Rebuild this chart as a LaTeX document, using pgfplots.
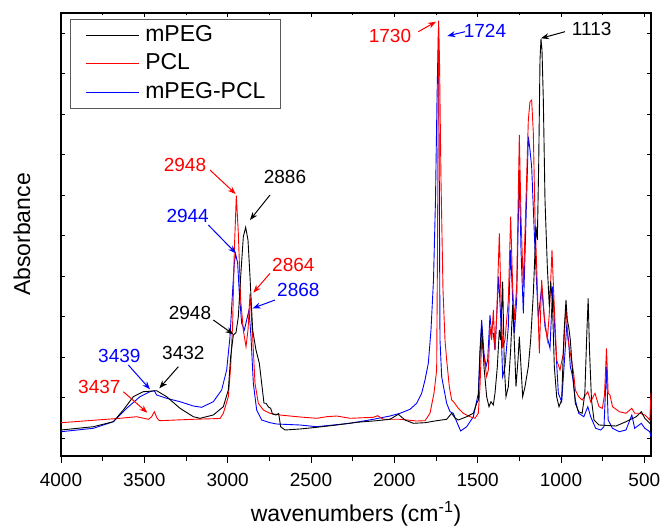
\documentclass[border=0pt]{standalone}
\usepackage{fontspec}
\setmainfont{Liberation Sans}
\usepackage{pgfplots}
\pgfplotsset{compat=1.18}
\usetikzlibrary{arrows.meta}
\definecolor{cred}{RGB}{255,0,0}
\definecolor{cblue}{RGB}{0,0,255}
\newcommand\annfont{\fontsize{19bp}{22bp}\selectfont}
\newcommand\lblfont{\fontsize{23bp}{27bp}\selectfont}
\begin{document}
\begin{tikzpicture}
\pgfplotsset{
 base/.style={
  at={(61bp,75bp)}, anchor=south west,
  width=590bp, height=443bp, scale only axis,
  xmin=460, xmax=4000, ymin=0, ymax=443,
  x dir=reverse,
  xtick={500,1000,...,4000},
  minor x tick num=1,
  /pgf/number format/1000 sep={},
  /pgf/number format/assume math mode=true,
  scaled ticks=false,
  axis line style={line width=1.2bp},
  every tick/.style={black, line width=0.9bp},
 }
}
\begin{axis}[base,
  xtick pos=right, ytick pos=both,
  tick align=inside,
  xticklabels={}, 
  ytick={17.7,58.2,98.7,139.2,179.7,220.2,260.7,301.2,341.7,382.2,422.7},
  yticklabels={},
  major tick length=4bp, minor tick length=2.5bp,
  every axis y label/.style={at={(axis description cs:-0.0661,0.5)}, rotate=90, anchor=center, font=\lblfont},
  ylabel={Absorbance},
  legend style={at={(axis description cs:0.01525,0.9865)}, anchor=north west,
    draw=black!65, line width=0.8bp, fill=white, font=\lblfont,
    inner xsep=15bp, inner ysep=5bp, row sep=6.5bp,
    nodes={inner sep=0pt, text height=17bp, text depth=5bp},
    /tikz/every odd column/.append style={column sep=6bp}},
  legend cell align=left,
  legend image code/.code={\draw[#1, line width=0.9bp] (0bp,0bp) -- (53bp,0bp);},
]
\addlegendimage{black}\addlegendentry{mPEG}
\addlegendimage{cred}\addlegendentry{PCL}
\addlegendimage{cblue}\addlegendentry{mPEG-PCL}

% mPEG-PCL (blue)
\addplot[cblue, line width=0.9bp, forget plot] coordinates {
(4000,24.3)(3806,27.7)(3686,34.3)(3606,47.7)(3526,59.3)(3466,64.3)(3440,65.3)(3426,61)
(3366,57.7)(3286,54.3)(3206,50)(3156,48.7)(3086,54.3)(3036,66)(3006,86)(2986,119.3)
(2970,166)(2960,192.7)(2952,202)(2940,192.7)(2930,162.7)(2916,132.7)(2900,126)(2886,136)
(2872,146)(2860,119.3)(2846,72.7)(2826,46)(2796,36)(2746,33.3)(2706,32)(2566,31)
(2466,29.3)(2266,32.7)(2126,36.7)(2096,37.7)(2026,40)(1966,42.7)(1906,46.7)(1866,52.7)
(1836,62.7)(1816,76)(1796,92.7)(1780,126)(1765,176)(1753,256)(1744,356)(1736,426)
(1731,306)(1726,116)(1716,79.3)(1686,52.7)(1666,44.3)(1646,42.7)(1626,34.3)(1602,25)
(1566,29.3)(1526,39.3)(1496,62.7)(1486,106)(1476,136)(1462,102.7)(1450,89.3)(1440,96)
(1426,141)(1416,122.7)(1406,122.7)(1396,106)(1386,139.3)(1374,179.3)(1362,139.3)(1350,79.3)
(1336,89.3)(1316,129.3)(1302,206)(1290,156)(1280,122.7)(1266,156)(1250,286)(1240,206)
(1226,142.7)(1210,236)(1196,319.3)(1186,306)(1176,289.3)(1156,206)(1136,137.7)(1116,169.3)
(1096,129.3)(1078,116)(1066,107.7)(1050,169.3)(1036,122.7)(1016,62.7)(996,54.3)(979,96)
(966,129.3)(955,116)(944,89.3)(930,79.3)(914,56)(894,42.7)(863,39.3)(839,49.3)
(822,39.3)(792,27.7)(762,26)(742,29.3)(727,89.3)(717,36)(691,27.7)(650,24.3)
(610,26)(575,41)(558,27.7)(518,32.7)(497,27.7)(467,24.3)(460,19.3)
};

% PCL (red)
\addplot[cred, line width=0.9bp, forget plot] coordinates {
(4000,33.3)(3646,37.7)(3546,39.3)(3476,36.7)(3457,39)(3440,44.3)(3424,38)(3410,35.3)
(3206,36.7)(3046,37.5)(3026,42.7)(2996,59.3)(2982,89.3)(2970,132.7)(2960,206)(2948,260.3)
(2936,222.7)(2922,156)(2906,126)(2890,109.3)(2878,126)(2866,162)(2850,119.3)(2836,72.7)
(2816,52.7)(2786,46)(2746,42.7)(2686,41)(2566,39)(2466,37.7)(2406,39.3)(2346,40)
(2266,37.7)(2126,38.7)(2100,40.3)(2066,36.7)(1966,36.7)(1866,35)(1816,35.3)(1786,42.7)
(1762,62.7)(1746,86)(1741,206)(1737,356)(1734,435.3)(1729,396)(1720,276)(1708,166)
(1696,116)(1686,96)(1670,69.3)(1656,56)(1642,53.7)(1616,47.7)(1586,42.7)(1546,39.3)
(1516,37.7)(1496,42.7)(1486,69.3)(1476,116)(1462,99.3)(1446,79.3)(1436,86)(1426,129.3)
(1416,116)(1406,146)(1396,106)(1386,139.3)(1370,222.7)(1360,156)(1350,109.3)(1336,116)
(1316,156)(1302,239.3)(1290,169.3)(1280,136)(1266,169.3)(1250,321)(1240,239.3)(1226,169.3)
(1210,256)(1196,336)(1186,354.3)(1176,356)(1166,322.7)(1156,239.3)(1142,169.3)(1130,102.7)
(1116,176)(1100,139.3)(1082,116)(1070,142.7)(1054,206)(1042,156)(1026,96)(1006,86)
(986,102.7)(970,149.3)(958,116)(944,102.7)(924,82.7)(914,66)(894,59.3)(873,56)
(839,64.3)(822,54.3)(796,62.7)(772,49.3)(752,47.7)(739,61)(727,107.7)(717,62.7)
(706,61)(691,49.3)(650,44.3)(610,42.7)(575,47.7)(558,42.7)(526,42.7)(496,41)
(467,36)(460,63)
};

% mPEG (black)
\addplot[black, line width=0.9bp, forget plot] coordinates {
(4000,26)(3806,29.3)(3686,34.3)(3626,46)(3566,59.3)(3506,64.3)(3426,65.3)(3366,59.3)
(3286,47.7)(3206,39.3)(3166,37.7)(3086,41)(3026,49.3)(2996,66)(2982,99.3)(2966,121)
(2950,123.3)(2936,139.3)(2922,179.3)(2906,219.3)(2892,228.7)(2878,216)(2866,179.3)(2850,126)
(2830,106)(2810,92.7)(2782,52.7)(2770,52.7)(2755,49)(2742,47.7)(2731,42)(2710,41)
(2694,42.5)(2682,29.3)(2656,26)(2566,27)(2466,28.7)(2346,31)(2226,33.7)(2106,35.3)
(2026,36.7)(1976,41.7)(1936,36)(1886,32.7)(1816,33.3)(1746,35.3)(1686,36.7)(1656,42.7)
(1636,38)(1616,36)(1566,39.3)(1526,42.7)(1506,52.7)(1496,56)(1486,102.7)(1476,129.3)
(1462,89.3)(1446,59.3)(1432,49.3)(1420,54.3)(1406,51)(1396,62.7)(1382,89.3)(1370,126)
(1362,116)(1350,174.3)(1340,89.3)(1330,59.3)(1316,69.3)(1302,106)(1290,151)(1282,122.7)
(1270,69.3)(1258,96)(1250,119.3)(1240,89.3)(1230,59.3)(1216,69.3)(1196,89.3)(1182,116)
(1166,162.7)(1150,229.3)(1142,216)(1134,289.3)(1126,396)(1120,417)(1114,406)(1106,356)
(1096,256)(1082,189.3)(1070,149.3)(1062,174.3)(1052,156)(1040,89.3)(1026,59.3)(1012,49.3)
(996,56)(982,122.7)(970,156)(962,136)(954,129.3)(944,116)(930,82.7)(914,52.7)
(894,44.3)(873,42.7)(857,62.7)(845,122.7)(837,157.7)(829,106)(817,56)(802,36)
(772,31)(670,30)(610,34.3)(549,39.3)(518,44.3)(497,37.7)(467,32.7)(460,31)
};

% annotations
\node[cred, font=\annfont] at (axis cs:3256,291) {2948};
\draw[cred, line width=1bp, -{Stealth[length=8bp,width=6bp]}] (axis cs:3106,286) -- (axis cs:2952,262);
\node[black, font=\annfont] at (axis cs:2656,278.7) {2886};
\draw[black, line width=1bp, -{Stealth[length=8bp,width=6bp]}] (axis cs:2746,261) -- (axis cs:2866,236);
\node[cblue, font=\annfont] at (axis cs:3240,240) {2944};
\draw[cblue, line width=1bp, -{Stealth[length=8bp,width=6bp]}] (axis cs:3116,231) -- (axis cs:2950,202.7);
\node[cred, font=\annfont] at (axis cs:2606,191) {2864};
\draw[cred, line width=1bp, -{Stealth[length=8bp,width=6bp]}] (axis cs:2746,182.7) -- (axis cs:2846,163.3);
\node[cblue, font=\annfont] at (axis cs:2576,166) {2868};
\draw[cblue, line width=1bp, -{Stealth[length=8bp,width=6bp]}] (axis cs:2716,156) -- (axis cs:2850,147.7);
\node[black, font=\annfont] at (axis cs:3226,142.7) {2948};
\draw[black, line width=1bp, -{Stealth[length=8bp,width=6bp]}] (axis cs:3086,136) -- (axis cs:2966,121.7);
\node[cblue, font=\annfont] at (axis cs:3650,100.3) {3439};
\draw[cblue, line width=1bp, -{Stealth[length=8bp,width=6bp]}] (axis cs:3596,91) -- (axis cs:3466,66.7);
\node[black, font=\annfont] at (axis cs:3266,102.7) {3432};
\draw[black, line width=1bp, -{Stealth[length=8bp,width=6bp]}] (axis cs:3296,89.3) -- (axis cs:3410,67.7);
\node[cred, font=\annfont] at (axis cs:3770,68.7) {3437};
\draw[cred, line width=1bp, -{Stealth[length=8bp,width=6bp]}] (axis cs:3626,64.3) -- (axis cs:3482,43.3);
\node[cred, font=\annfont] at (axis cs:2026,420) {1730};
\draw[cred, line width=1bp, -{Stealth[length=8bp,width=6bp]}] (axis cs:1856,424.3) -- (axis cs:1750,434.3);
\node[cblue, font=\annfont] at (axis cs:1456,425.3) {1724};
\draw[cblue, line width=1bp, -{Stealth[length=8bp,width=6bp]}] (axis cs:1576,424.3) -- (axis cs:1682,420);
\node[black, font=\annfont] at (axis cs:816,426.7) {1113};
\draw[black, line width=1bp, -{Stealth[length=8bp,width=6bp]}] (axis cs:976,424.3) -- (axis cs:1120,417.7);
\end{axis}

\begin{axis}[base,
  axis x line*=bottom, axis y line=none,
  tick align=outside,
  major tick length=7bp, minor tick length=4.5bp,
  xticklabel style={font=\annfont, inner sep=0pt},
  xticklabel shift=9.7bp,
  xlabel={wavenumbers (cm\textsuperscript{-1})},
  xlabel style={at={(axis description cs:0.5,0)}, anchor=base, yshift=-65bp, font=\lblfont},
]
\addplot[draw=none] coordinates {(1000,10)};
\end{axis}
\pgfresetboundingbox
\path (0,0) rectangle (660bp,531bp);
\end{tikzpicture}
\end{document}
